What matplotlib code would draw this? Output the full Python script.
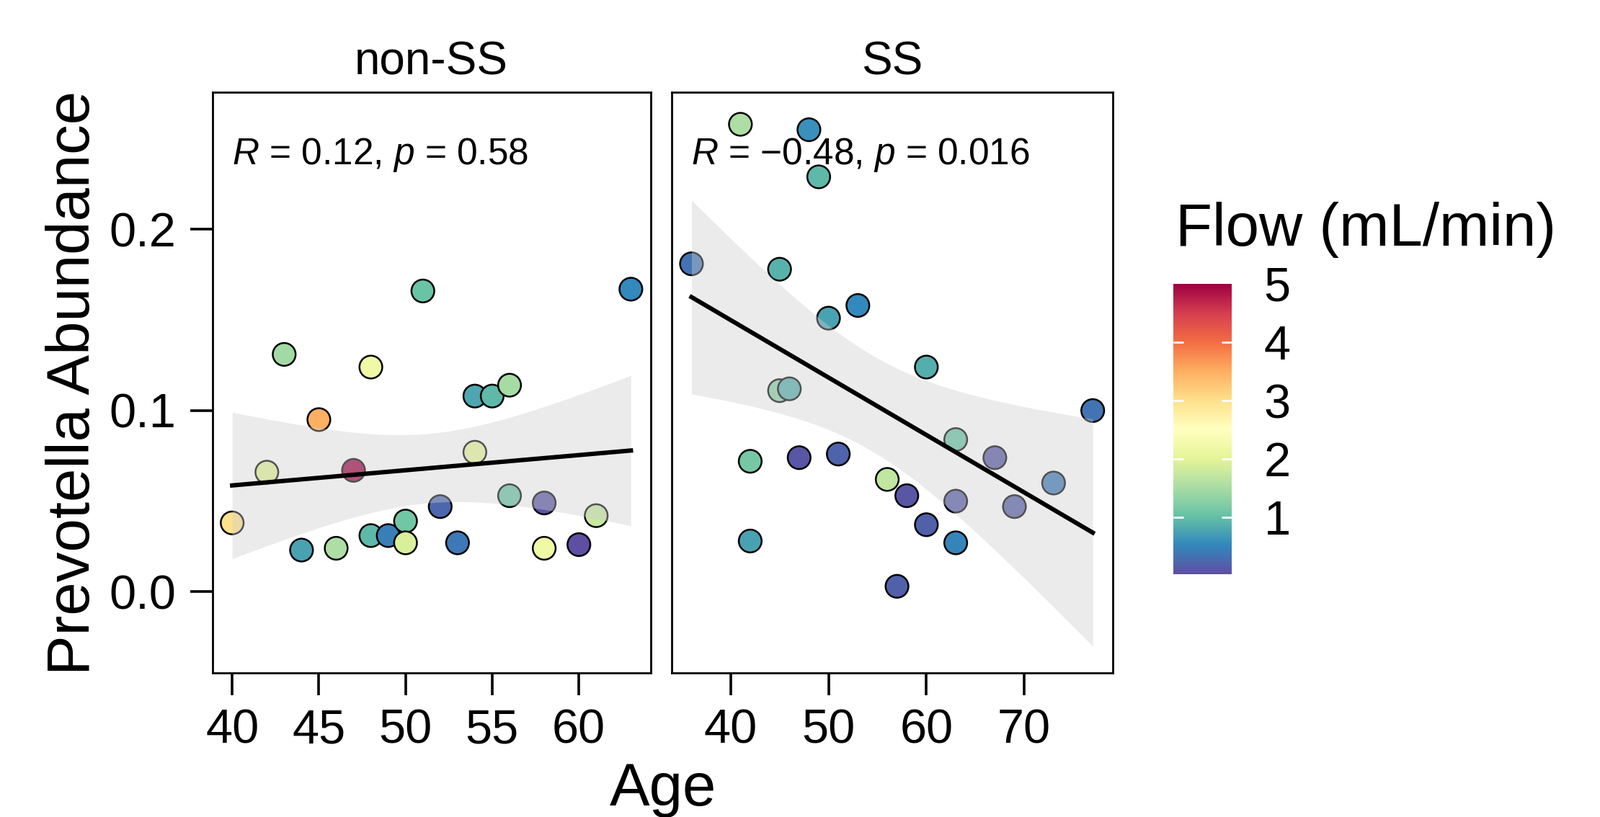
import numpy as np
import matplotlib
matplotlib.use("Agg")
import matplotlib.pyplot as plt
import matplotlib.colors as mcolors
from matplotlib.cm import ScalarMappable

plt.rcParams['font.family'] = ['Liberation Sans', 'DejaVu Sans']
plt.rcParams['mathtext.fontset'] = 'custom'
plt.rcParams['mathtext.rm'] = 'Liberation Sans'
plt.rcParams['mathtext.it'] = 'Liberation Sans:italic'

# data
groups = ["non-SS", "SS"]

age_non = [40, 42, 43, 44, 45, 46, 47, 48, 48, 49, 50, 50, 51, 52, 53,
           54, 54, 55, 56, 56, 58, 58, 60, 61, 63]
prev_non = [0.038, 0.066, 0.131, 0.023, 0.095, 0.024, 0.067, 0.031, 0.124,
            0.031, 0.039, 0.027, 0.166, 0.047, 0.027, 0.108, 0.077, 0.108,
            0.114, 0.053, 0.049, 0.024, 0.026, 0.042, 0.167]
flow_non = [3.0, 2.0, 1.45, 0.75, 3.5, 1.55, 5.0, 0.95, 2.2, 0.45, 1.1, 1.9,
            1.05, 0.25, 0.4, 0.8, 2.1, 0.95, 1.5, 1.05, 0.1, 2.2, 0.03, 1.75,
            0.55]

age_ss = [41, 48, 49, 36, 45, 53, 50, 60, 45, 46, 77, 63, 42, 47, 51, 67,
          56, 58, 63, 73, 69, 60, 63, 42, 57]
prev_ss = [0.258, 0.255, 0.229, 0.181, 0.178, 0.158, 0.151, 0.124, 0.111,
           0.112, 0.100, 0.084, 0.072, 0.074, 0.076, 0.074, 0.062, 0.053,
           0.050, 0.060, 0.047, 0.037, 0.027, 0.028, 0.003]
flow_ss = [1.55, 0.6, 0.95, 0.35, 0.9, 0.55, 0.75, 0.85, 1.3, 0.85, 0.35,
           1.05, 1.15, 0.1, 0.22, 0.12, 1.7, 0.1, 0.15, 0.4, 0.15, 0.2, 0.5,
           0.75, 0.2]

cor_labels = ["$\\it{R}$ = 0.12, $\\it{p}$ = 0.58",
              "$\\it{R}$ = \u22120.48, $\\it{p}$ = 0.016"]
x_ticks = [[40, 45, 50, 55, 60], [40, 50, 60, 70]]
y_ticks = [0.0, 0.1, 0.2]
flow_ticks = [1, 2, 3, 4, 5]

T975 = 2.069  # t quantile, df = 23


def lm_band(x, y, xs):
    n = len(x)
    b1, b0 = np.polyfit(x, y, 1)
    fit = b0 + b1 * xs
    res = y - (b0 + b1 * x)
    s = np.sqrt(np.sum(res ** 2) / (n - 2))
    se = s * np.sqrt(1 / n + (xs - x.mean()) ** 2 / np.sum((x - x.mean()) ** 2))
    return fit, fit - T975 * se, fit + T975 * se


fig = plt.figure(figsize=(11.1, 5.67), dpi=200)
W, H = 2220, 1134
boxes = [(294.5, 903), (931.6, 1544)]
top, bot = 128, 934

cmap = plt.get_cmap("Spectral_r")
all_flow = flow_non + flow_ss
norm = mcolors.Normalize(vmin=min(all_flow), vmax=max(all_flow))

data = [(age_non, prev_non, flow_non), (age_ss, prev_ss, flow_ss)]
for i, (ages, prev, flow) in enumerate(data):
    l, r = boxes[i]
    ax = fig.add_axes([l / W, 1 - bot / H, (r - l) / W, (bot - top) / H])
    x = np.array(ages, dtype=float)
    y = np.array(prev)
    ax.scatter(x, y, c=flow, cmap=cmap, norm=norm, s=130,
               edgecolors="black", linewidths=0.9, zorder=2)
    xs = np.linspace(x.min(), x.max(), 80)
    fit, lo, hi = lm_band(x, y, xs)
    ax.fill_between(xs, lo, hi, color="#CDCDCD", alpha=0.4, lw=0, zorder=3)
    ax.plot(xs, fit, color="black", lw=2.2, zorder=4)

    rng = x.max() - x.min()
    ax.set_xlim(x.min() - 0.05 * rng, x.max() + 0.05 * rng)
    ax.set_ylim(-0.0448, 0.2757)
    ax.set_xticks(x_ticks[i])
    ax.set_yticks(y_ticks)
    if i == 0:
        ax.set_yticklabels(["%.1f" % v for v in y_ticks])
    else:
        ax.tick_params(axis="y", left=False, labelleft=False)
    ax.tick_params(axis="both", direction="out", length=11, width=1.3,
                   labelsize=24, pad=7, color="black")
    for sp in ax.spines.values():
        sp.set_linewidth(1.0)
    ax.text(x.min(), 0.892, cor_labels[i], transform=ax.get_xaxis_transform(),
            ha="left", va="center", fontsize=18.5)
    ax.text(0.5, 1.031, groups[i], transform=ax.transAxes, ha="center",
            va="baseline", fontsize=23)

fig.text(102 / W, 1 - 531 / H, "Prevotella Abundance", rotation=90,
         ha="center", va="center", fontsize=30)
fig.text(920 / W, 1 - 1118 / H, "Age", ha="center", va="baseline", fontsize=30)

# colour bar
cax = fig.add_axes([1628 / W, 1 - 797 / H, 81 / W, 403 / H])
cb = fig.colorbar(ScalarMappable(norm=norm, cmap=cmap), cax=cax)
cb.outline.set_visible(False)
cb.set_ticks(flow_ticks)
cax.tick_params(direction="in", color="white", length=5, width=1.0,
                left=True, right=True, labelleft=False, labelright=True,
                labelsize=24, pad=16)
last = cax.yaxis.get_major_ticks()[-1]
last.tick1line.set_visible(False)
last.tick2line.set_visible(False)
fig.text(1631 / W, 1 - 341 / H, "Flow (mL/min)", ha="left", va="baseline",
         fontsize=30)

fig.savefig("out.png", dpi=200)
